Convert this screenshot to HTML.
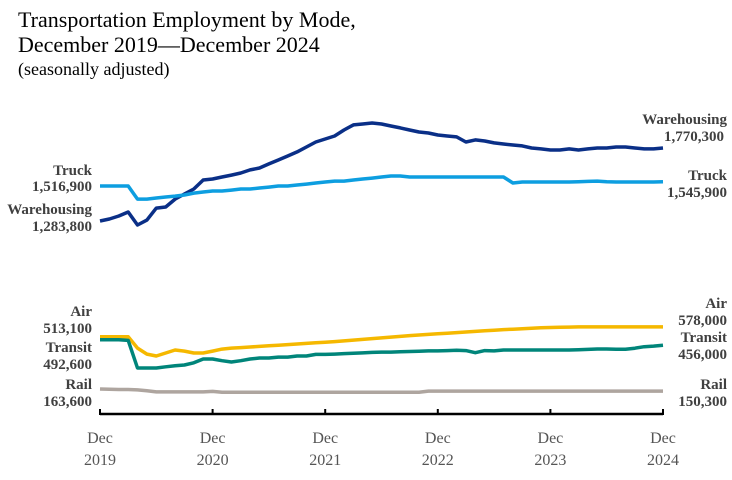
<!DOCTYPE html>
<html><head><meta charset="utf-8"><style>
body{margin:0;background:#fff;}
svg{display:block;font-family:"Liberation Serif",serif;}
.lbl{font-weight:bold;font-size:15px;fill:#404040;}
.tick{font-size:16px;fill:#555;}
</style></head><body>
<svg width="732" height="480">
<text x="18" y="27" font-size="22" fill="#000">Transportation Employment by Mode,</text>
<text x="18" y="52" font-size="22" fill="#000">December 2019—December 2024</text>
<text x="18" y="75" font-size="18" fill="#000">(seasonally adjusted)</text>
<g id="series"></g>
<g id="axis"></g>
<g>
<text class="lbl" x="92" y="175" text-anchor="end">Truck</text>
<text class="lbl" x="92" y="191" text-anchor="end">1,516,900</text>
<text class="lbl" x="92" y="214" text-anchor="end">Warehousing</text>
<text class="lbl" x="92" y="231" text-anchor="end">1,283,800</text>
<text class="lbl" x="92" y="316" text-anchor="end">Air</text>
<text class="lbl" x="92" y="333" text-anchor="end">513,100</text>
<text class="lbl" x="92" y="352" text-anchor="end">Transit</text>
<text class="lbl" x="92" y="369" text-anchor="end">492,600</text>
<text class="lbl" x="92" y="389" text-anchor="end">Rail</text>
<text class="lbl" x="92" y="406" text-anchor="end">163,600</text>
</g>
<g>
<text class="lbl" x="727" y="124" text-anchor="end">Warehousing</text>
<text class="lbl" x="724" y="141" text-anchor="end">1,770,300</text>
<text class="lbl" x="727" y="180" text-anchor="end">Truck</text>
<text class="lbl" x="727" y="197" text-anchor="end">1,545,900</text>
<text class="lbl" x="727" y="308" text-anchor="end">Air</text>
<text class="lbl" x="727" y="325" text-anchor="end">578,000</text>
<text class="lbl" x="727" y="342" text-anchor="end">Transit</text>
<text class="lbl" x="727" y="359" text-anchor="end">456,000</text>
<text class="lbl" x="727" y="389" text-anchor="end">Rail</text>
<text class="lbl" x="727" y="406" text-anchor="end">150,300</text>
</g>
</svg>
<script>
// values in thousands, monthly Dec 2019 .. Dec 2024
const warehousing=[1284,1297,1317,1344,1257,1290,1370,1377,1430,1464,1497,1557,1564,1577,1590,1604,1624,1637,1664,1690,1717,1744,1777,1810,1830,1850,1890,1924,1930,1937,1930,1917,1904,1890,1877,1870,1857,1850,1844,1810,1824,1817,1804,1797,1790,1784,1770,1764,1757,1757,1764,1757,1764,1770,1770,1777,1777,1770,1764,1764,1770];
const truck=[1517,1517,1517,1517,1430,1430,1437,1444,1450,1457,1470,1477,1484,1484,1490,1497,1497,1504,1510,1517,1517,1524,1530,1537,1544,1550,1550,1557,1564,1570,1577,1584,1584,1577,1577,1577,1577,1577,1577,1577,1577,1577,1577,1577,1537,1544,1544,1544,1544,1544,1544,1546,1548,1550,1546,1544,1544,1544,1544,1544,1546];
const air=[513,513,513,513,437,397,384,404,424,417,404,404,417,430,437,440,444,448,452,456,460,464,468,472,476,480,485,490,495,500,505,510,515,520,524,528,532,536,540,544,548,552,556,560,563,566,569,572,574,576,577,578,578,578,578,578,578,578,578,578,578];
const transit=[493,493,493,488,304,304,304,312,319,324,339,364,364,353,344,353,364,371,371,377,377,384,384,395,395,397,400,402,405,408,410,410,412,414,416,418,418,420,422,420,406,420,418,424,424,424,424,424,424,424,424,426,428,431,431,429,429,436,446,450,456];
const rail=[164,162,161,161,158,152,145,145,145,145,145,145,148,143,143,143,143,143,143,143,143,143,143,143,143,143,143,143,143,143,143,143,143,143,143,150,150,150,150,150,150,150,150,150,150,150,150,150,150,150,150,150,150,150,150,150,150,150,150,150,150];
const tickYears=["2019","2020","2021","2022","2023","2024"];
const tickMonth="Dec";
const NS="http://www.w3.org/2000/svg";
const X0=100,X1=663,N=60;
function xs(i){return X0+(X1-X0)*i/N;}
function ys(v){return 221-(v-1283.8)/6.664;}
const g=document.getElementById('series');
const defs=[["warehousing",warehousing,"#0a2f87"],["truck",truck,"#0d9ee0"],["air",air,"#f5b800"],["transit",transit,"#00857a"],["rail",rail,"#aea59f"]];
defs.forEach(([n,d,c])=>{
 const p=document.createElementNS(NS,'polyline');
 p.setAttribute('points',d.map((v,i)=>xs(i).toFixed(1)+','+ys(v).toFixed(1)).join(' '));
 p.setAttribute('fill','none');p.setAttribute('stroke',c);p.setAttribute('stroke-width','3.5');p.setAttribute('stroke-linejoin','round');
 
 
 g.appendChild(p);
});
const a=document.getElementById('axis');
const ln=document.createElementNS(NS,'line');
ln.setAttribute('x1',X0);ln.setAttribute('x2',X1);ln.setAttribute('y1',414);ln.setAttribute('y2',414);
ln.setAttribute('stroke','#000');ln.setAttribute('stroke-width','2.5');


a.appendChild(ln);
tickYears.forEach((yr,k)=>{
 const x=xs(k*12);
 const t=document.createElementNS(NS,'line');
 t.setAttribute('x1',x);t.setAttribute('x2',x);t.setAttribute('y1',409);t.setAttribute('y2',415);
 t.setAttribute('stroke','#000');t.setAttribute('stroke-width','2');
 
 
 a.appendChild(t);
 const m=document.createElementNS(NS,'text');
 m.setAttribute('x',x);m.setAttribute('y',443);m.setAttribute('text-anchor','middle');m.setAttribute('class','tick');
 m.textContent=tickMonth;
 
 
 a.appendChild(m);
 const y=document.createElementNS(NS,'text');
 y.setAttribute('x',x);y.setAttribute('y',465);y.setAttribute('text-anchor','middle');y.setAttribute('class','tick');
 y.textContent=yr;
 
 
 a.appendChild(y);
});
</script>
</body></html>
